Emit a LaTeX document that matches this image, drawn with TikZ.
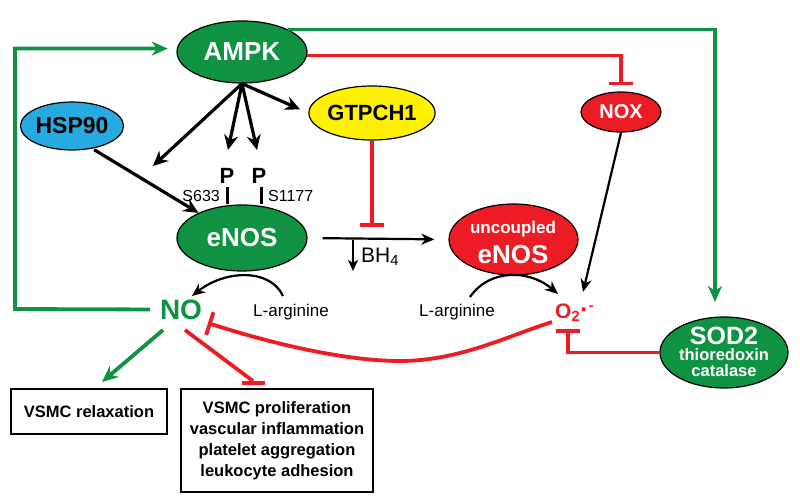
\documentclass[tikz,border=0pt]{standalone}
\usepackage{fontspec}
\setmainfont{Liberation Sans}
\usetikzlibrary{shapes.geometric,arrows.meta}
\definecolor{gr}{RGB}{16,146,67}
\definecolor{rd}{RGB}{237,28,36}
\definecolor{bl}{RGB}{39,170,225}
\definecolor{yl}{RGB}{255,242,0}
\newcommand{\fsz}[1]{\fontsize{#1}{#1}\selectfont}
\begin{document}
\begin{tikzpicture}[x=1pt,y=-1pt,
  ell/.style={ellipse,draw=black,line width=1.2pt,inner sep=0pt},
  blk/.style={line width=3.2pt,-{Stealth[length=15pt,width=14pt,inset=5pt]}},
  thin/.style={line width=2.2pt,-{Stealth[length=13pt,width=11pt,inset=4pt]}},
  grn/.style={gr,line width=3.8pt,-{Stealth[length=16pt,width=14pt,inset=5pt]}},
  inh/.style={rd,line width=3.8pt,-{Bar[width=24pt]}},
  box/.style={draw,line width=1.4pt,inner sep=0pt,align=center,font=\bfseries\fontsize{16.5}{21}\selectfont},
  lbl/.style={inner sep=0pt,anchor=base}
]
\useasboundingbox (0,0) rectangle (800,503);

% nodes
\node[ell,fill=gr,minimum width=130pt,minimum height=62pt,text=white,font=\bfseries\fsz{26}] (ampk) at (242,52) {AMPK};
\node[ell,fill=bl,minimum width=92pt,minimum height=48pt,font=\bfseries\fsz{23}] (hsp) at (72,126) {HSP90};
\node[ell,fill=yl,minimum width=112pt,minimum height=54pt,font=\bfseries\fsz{22}] (gtp) at (372,113) {GTPCH1};
\node[ell,fill=rd,minimum width=80pt,minimum height=40pt,text=white,font=\bfseries\fsz{20}] (nox) at (621,112) {NOX};
\node[ell,fill=gr,minimum width=130pt,minimum height=66pt,text=white,font=\bfseries\fsz{26}] (enos) at (242,238) {eNOS};
\node[ell,fill=rd,minimum width=129pt,minimum height=71pt] (unc) at (513.5,239.5) {};
\node[lbl,text=white,font=\bfseries\fsz{17}] (unct) at (513,233) {uncoupled};
\node[lbl,text=white,font=\bfseries\fsz{26}] (uncn) at (513,263) {eNOS};
\node[ell,fill=gr,minimum width=128pt,minimum height=71pt] (sod) at (724,352.5) {};
\node[lbl,text=white,font=\bfseries\fsz{25}] (sodt) at (724,344) {SOD2};
\node[lbl,text=white,font=\bfseries\fsz{16.5}] (thio) at (724,360.5) {thioredoxin};
\node[lbl,text=white,font=\bfseries\fsz{16.5}] (cat) at (724,376) {catalase};

\node[inner sep=0pt,text=gr,font=\bfseries\fsz{28}] (no) at (181,309.5) {NO};
\node[inner sep=0pt,anchor=base west,text=rd,font=\bfseries\fsz{21}] (o2) at (555,318) {O\textsubscript{2}{\fsz{26}·}\textsuperscript{-}};

\node[lbl,font=\bfseries\fsz{22}] (p1) at (227,183) {P};
\node[lbl,font=\bfseries\fsz{22}] (p2) at (259,183) {P};
\node[inner sep=0pt,anchor=base east,font=\fsz{16}] (s633) at (220,201.5) {S633};
\node[inner sep=0pt,anchor=base west,font=\fsz{16}] (s1177) at (268,201.5) {S1177};
\node[lbl,font=\fsz{17}] (la1) at (291,316) {L-arginine};
\node[lbl,font=\fsz{17}] (la2) at (457,316) {L-arginine};
\node[inner sep=0pt,anchor=base west,font=\fsz{21}] (bh) at (361,262) {BH\textsubscript{4}};

\node[box,minimum width=156pt,minimum height=45pt] (b1) at (89,411.5) {VSMC relaxation};
\node[box,minimum width=192pt,minimum height=103pt] (b2) at (277,440.5) {VSMC proliferation\\vascular inflammation\\platelet aggregation\\leukocyte adhesion};

% coordinates for free ends
\coordinate (hspt) at (153,166);
\coordinate (p1t) at (228,150);
\coordinate (p2t) at (257,150);
\coordinate (gbar) at (372,227);
\coordinate (bha) at (353,240);
\coordinate (bhb) at (353,271);
\coordinate (la1s) at (283,296);
\coordinate (not) at (192,296);
\coordinate (la2s) at (470,297);
\coordinate (o2t) at (558,294);
\coordinate (noxt) at (583,292);
\coordinate (sodtip) at (715,302);
\coordinate (fbc) at (15,309);
\coordinate (o2bar) at (568,329);
\coordinate (o2s) at (552,322);
\coordinate (nob) at (208,323);
\coordinate (relt) at (102,382);
\coordinate (b2bar) at (253,383);

% AMPK activations
\draw[blk] (ampk.south) -- (hspt);
\draw[blk] (ampk.south) -- (p1t);
\draw[blk] (ampk.south) -- (p2t);
\draw[blk,shorten >=9pt] (ampk.south) -- (gtp.west);
\draw[blk,shorten <=2pt] (hsp.-48) -- (enos.150);

% phosphorylation bars
\draw[line width=3pt] ([yshift=-4pt]p1.south) -- (p1.south |- enos.north);
\draw[line width=3pt] ([xshift=2pt,yshift=-4pt]p2.south) -- ([xshift=2pt]p2.south |- enos.north);

% GTPCH1 inhibition
\draw[inh] (gtp.south) -- (gbar);

% eNOS -> uncoupled eNOS
\draw[thin,shorten <=15pt,shorten >=14pt] (enos.east) -- (unc.west);
\draw[line width=2pt,-{Stealth[length=11pt,width=10pt,inset=3pt]}] (bha) -- (bhb);

% L-arginine arcs
\draw[thin] (la1s) .. controls (270,268) and (225,270) .. (not);
\draw[thin] (la2s) .. controls (490,268) and (530,270) .. (o2t);

% NOX -> O2
\draw[thin] (nox.south) -- (noxt);

% AMPK top lines
\draw[grn] (ampk.26) -| (sodtip);
\draw[inh,shorten >=6pt] (ampk.-3) -| (nox.north);

% feedback NO -> AMPK
\draw[grn,shorten <=10pt,shorten >=9pt] (no.west) -- (fbc) |- (ampk.177);

% SOD2 inhibits O2
\draw[inh] (sod.west) -| (o2bar);

% O2 inhibits NO
\draw[inh] (o2s) .. controls (510,335) and (460,361) .. (400,361) .. controls (340,361) and (260,340) .. (nob);

% NO outputs
\draw[grn] ([shift={(-18,20.5)}]no.center) -- (relt);
\draw[rd,line width=3.8pt] ([shift={(4,20.5)}]no.center) -- ([yshift=2pt]b2bar);
\draw[rd,line width=4pt] ([xshift=-11pt]b2bar) -- ([xshift=12pt]b2bar);
\end{tikzpicture}
\end{document}
